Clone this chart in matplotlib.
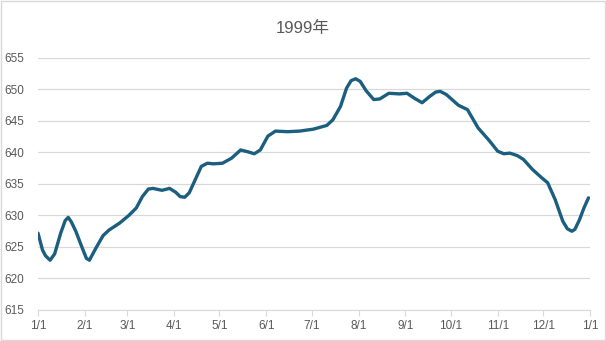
import matplotlib.pyplot as plt
import pandas as pd
from matplotlib.patches import Rectangle

# values (day of year -> level)
days = [0, 3, 5, 8, 11, 15, 18, 20, 22, 25, 29, 32, 34, 38, 43, 47, 54, 60, 65, 69,
        73, 76, 82, 87, 91, 94, 97, 100, 104, 108, 112, 116, 122, 128, 134, 139, 143,
        147, 152, 157, 165, 173, 182, 191, 195, 200, 204, 207, 210, 213, 217, 222, 226,
        232, 239, 244, 249, 254, 259, 263, 266, 270, 278, 284, 291, 298, 304, 308, 312,
        317, 321, 327, 333, 337, 342, 347, 350, 353, 355, 358, 361, 364]
values = [627.2, 624.5, 623.6, 622.9, 623.9, 627.2, 629.2, 629.7, 629.0, 627.5, 625.0, 623.2,
          622.9, 624.7, 626.8, 627.7, 628.8, 630.0, 631.2, 633.0, 634.2, 634.3, 634.0, 634.3,
          633.7, 633.0, 632.9, 633.6, 635.7, 637.8, 638.3, 638.2, 638.3, 639.1, 640.4, 640.1,
          639.8, 640.4, 642.6, 643.4, 643.3, 643.4, 643.7, 644.3, 645.2, 647.3, 650.2, 651.4,
          651.7, 651.3, 649.8, 648.4, 648.5, 649.4, 649.3, 649.4, 648.6, 647.9, 648.9, 649.6,
          649.7, 649.2, 647.5, 646.8, 643.9, 642.0, 640.2, 639.8, 639.9, 639.5, 638.9, 637.3,
          636.0, 635.2, 632.5, 629.1, 627.9, 627.5, 627.8, 629.3, 631.2, 632.8]
yticks = [615, 620, 625, 630, 635, 640, 645, 650, 655]
month_labels = ['1/1', '2/1', '3/1', '4/1', '5/1', '6/1', '7/1', '8/1', '9/1', '10/1', '11/1', '12/1', '1/1']

start = pd.Timestamp('1999-01-01')
dates = [start + pd.Timedelta(days=d) for d in days]
month_ticks = pd.date_range('1999-01-01', '2000-01-01', freq='MS')

plt.rcParams['font.family'] = ['Liberation Sans', 'Noto Sans CJK SC', 'DejaVu Sans']
text_color = '#595959'
grid_color = '#d9d9d9'

fig = plt.figure(figsize=(6.06, 3.41), dpi=100)
ax = fig.add_axes([38 / 606, 31 / 341, 552 / 606, 252 / 341])
fig.patches.append(Rectangle((0.001, 0.002), 0.997, 0.995, transform=fig.transFigure,
                             fill=False, edgecolor='#d9d9d9', linewidth=1))

ax.plot(dates, values, color='#1b5e80', linewidth=2.4,
        solid_capstyle='round', solid_joinstyle='round')

ax.set_ylim(615, 655)
ax.set_yticks(yticks)
ax.set_xlim(month_ticks[0], month_ticks[-1])
ax.set_xticks(month_ticks)
ax.set_xticklabels(month_labels)
ax.grid(axis='y', color=grid_color, linewidth=0.9)
ax.set_axisbelow(True)
for side in ['left', 'right', 'top']:
    ax.spines[side].set_visible(False)
ax.spines['bottom'].set_color(grid_color)
ax.tick_params(axis='y', length=0, pad=10, labelsize=8.5, labelcolor=text_color)
ax.tick_params(axis='x', length=4, color=grid_color, pad=3, labelsize=8.5, labelcolor=text_color)

fig.text(0.5, 0.918, '1999年', ha='center', va='center', fontsize=12, color=text_color)

fig.savefig('out.png', dpi=100)
